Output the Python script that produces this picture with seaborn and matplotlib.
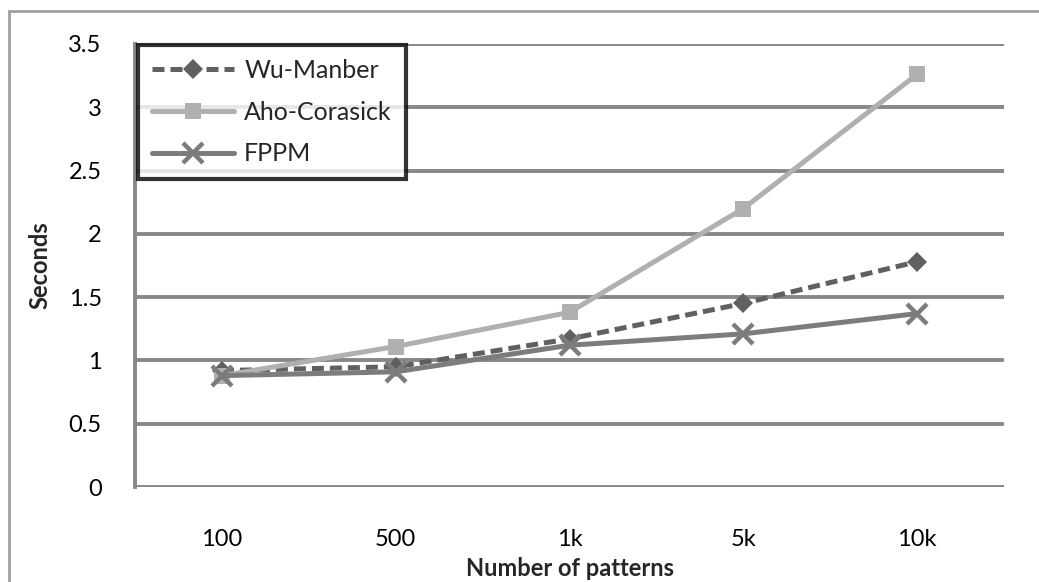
import matplotlib
matplotlib.use("Agg")
import matplotlib.pyplot as plt
import seaborn as sns
import pandas as pd
from matplotlib.patches import Rectangle

categories = ["100", "500", "1k", "5k", "10k"]
wu_manber = [0.92, 0.95, 1.17, 1.45, 1.78]
aho_corasick = [0.88, 1.11, 1.38, 2.20, 3.26]
fppm = [0.88, 0.91, 1.12, 1.21, 1.37]
series_names = ["Wu-Manber", "Aho-Corasick", "FPPM"]
y_ticks = [0, 0.5, 1, 1.5, 2, 2.5, 3, 3.5]
y_tick_labels = ["0", "0.5", "1", "1.5", "2", "2.5", "3", "3.5"]

rows = []
for name, vals in zip(series_names, [wu_manber, aho_corasick, fppm]):
    for c, v in zip(categories, vals):
        rows.append({"Number of patterns": c, "Seconds": v, "Series": name})
df = pd.DataFrame(rows)

sns.set_theme(style="white")
plt.rcParams["font.family"] = ["Lato", "DejaVu Sans"]

fig = plt.figure(figsize=(10.39, 5.82), dpi=100)
ax = fig.add_axes([135/1039, 1-487/582, (1004-135)/1039, (487-44)/582])

palette = {"Wu-Manber": "#606060", "Aho-Corasick": "#b0b0b0", "FPPM": "#7c7c7c"}
markers = {"Wu-Manber": "D", "Aho-Corasick": "s", "FPPM": "x"}
dashes = {"Wu-Manber": (2.4, 1.2), "Aho-Corasick": "", "FPPM": ""}
sizes = {"Wu-Manber": 10, "Aho-Corasick": 12, "FPPM": 14}

for name in series_names:
    sub = df[df["Series"] == name]
    sns.lineplot(data=sub, x="Number of patterns", y="Seconds", ax=ax,
                 color=palette[name], marker=markers[name],
                 markersize=sizes[name], markeredgewidth=3.2 if name == "FPPM" else 0,
                 markeredgecolor=palette[name],
                 linewidth=3.6, label=name, sort=False,
                 linestyle=(0, dashes[name]) if dashes[name] else "-")

ax.set_xlim(-0.5, len(categories) - 0.5)
ax.set_ylim(0, 3.5)
ax.set_yticks(y_ticks)
ax.set_yticklabels(y_tick_labels)
ax.set_xticks(range(len(categories)))
ax.set_xticklabels(categories)
ax.tick_params(axis="both", labelsize=17, length=0, colors="black")
ax.tick_params(axis="y", pad=24)
ax.tick_params(axis="x", pad=30)
ax.yaxis.grid(True, color="#888888", linewidth=2.8)
ax.set_axisbelow(True)
for s in ["top", "right", "bottom"]:
    ax.spines[s].set_visible(False)
ax.spines["left"].set_color("#888888")
ax.spines["left"].set_linewidth(2.8)

ax.set_ylabel("Seconds", fontsize=17, fontweight="bold", labelpad=12)
ax.set_xlabel("Number of patterns", fontsize=17, fontweight="bold", labelpad=5)

leg = ax.legend(loc="upper left", bbox_to_anchor=(138/1039, 1-45/582),
                bbox_transform=fig.transFigure, borderaxespad=0,
                fontsize=18, frameon=True, fancybox=False, handlelength=3.3,
                borderpad=0.55, labelspacing=0.75, handletextpad=0.4)
leg.get_frame().set_edgecolor("black")
leg.get_frame().set_linewidth(3)

fig.patches.append(Rectangle((9/1039, -0.1), 1.2, 1-11/582 + 0.1,
                             transform=fig.transFigure, fill=False,
                             edgecolor="#a0a0a0", linewidth=2))

fig.savefig("out.png", dpi=100)
